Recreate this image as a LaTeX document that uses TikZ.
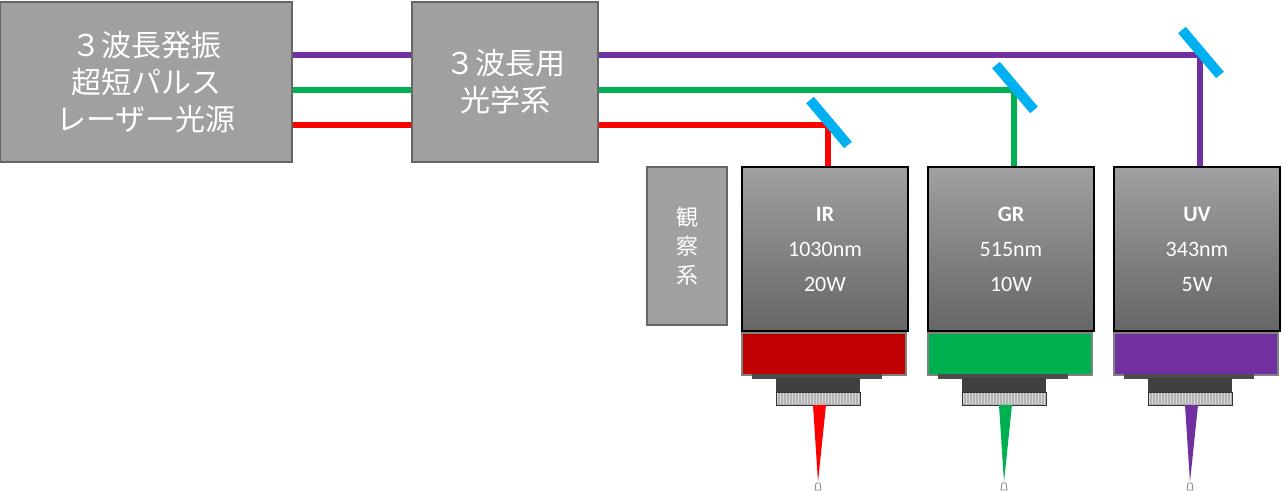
\documentclass[tikz,border=0pt]{standalone}
\usepackage{fontspec}
\setmainfont{Carlito}
\newfontfamily\jp{Noto Sans CJK JP}
\usetikzlibrary{positioning,shadings}
\definecolor{boxgray}{HTML}{A0A0A0}
\definecolor{lpurple}{HTML}{7030A0}
\definecolor{lgreen}{HTML}{00B050}
\definecolor{lred}{HTML}{FF0000}
\definecolor{bandred}{HTML}{C00000}
\definecolor{mirror}{HTML}{00B0F0}
\begin{document}
\begin{tikzpicture}[x=0.5pt,y=-0.5pt]

	\tikzset{
		unit/.style={rectangle, draw=gray!80!black, thick, fill=boxgray, text=white, inner sep=0pt, align=center},
		beam/.style={line width=3pt},
		head/.style={rectangle, draw=black, line width=1.2pt, top color=boxgray, bottom color=gray!80!black, inner sep=0pt, minimum width=83pt, minimum height=82pt}
	}
	\useasboundingbox (0,0) rectangle (1282,492);

	\node [unit, minimum width=146pt, minimum height=80pt, font=\jp\fontsize{15}{18.5}\selectfont] (src) at (146,82) {３波長発振\\超短パルス\\レーザー光源};
	\node [unit, minimum width=93pt, minimum height=80pt, font=\jp\fontsize{15}{18.5}\selectfont] (opt) at (505,82) {３波長用\\光学系};
	\node [unit, minimum width=40pt, minimum height=79pt, font=\jp\fontsize{11}{14.5}\selectfont] (obs) at (687,246) {観\\察\\系};

	% source -> optics
	\draw [beam, lpurple] (src.east |- 0,55) -- (opt.west |- 0,55);
	\draw [beam, lgreen] (src.east |- 0,90) -- (opt.west |- 0,90);
	\draw [beam, lred] (src.east |- 0,125) -- (opt.west |- 0,125);

	\foreach \name/\x/\y/\lab/\wl/\pw/\col/\band in {IR/825/125/IR/1030nm/20W/lred/bandred, GR/1011/90/GR/515nm/10W/lgreen/lgreen, UV/1197/55/UV/343nm/5W/lpurple/lpurple}{
		\node [head] (h\name) at (\x,249) {};
		\node [text=white, font=\fontsize{11}{17.5}\selectfont, align=center] at (h\name) {\textbf{\lab}\\\wl\\\pw};
		% band and lens
		\node [rectangle, draw=gray, thick, fill=\band, minimum width=82pt, minimum height=21pt, inner sep=0pt] (b\name) at (\x-1,354) {};
		\fill [black!70] (\x-73,374) rectangle (\x+57,379);
		\fill [black!75] (\x-49,378) rectangle (\x+35,392);
		\fill [gray!60, draw=black!80] (\x-49,392) rectangle (\x+35,405);
		\foreach \k in {0,3,...,81} \draw [white!70!gray, line width=0.4pt] (\x-48+\k,393) -- (\x-48+\k,404);
		\fill [\col] (\x-12,405) -- (\x+1,405) -- (\x-7,482) -- cycle;
		\draw [gray, line width=0.4pt, fill=white] (\x-10,490) -- (\x-4,490) -- (\x-5,483) -- (\x-9,483) -- cycle;
		% optics -> head
		\coordinate (m\name) at (\x+3,\y);
		\draw [beam, \col] (opt.east |- 0,\y) -- (m\name) -- (h\name.north -| m\name);
		\draw [mirror, line width=5pt] (\x-15,\y-25) -- (\x+23,\y+20);
	}

\end{tikzpicture}
\end{document}
